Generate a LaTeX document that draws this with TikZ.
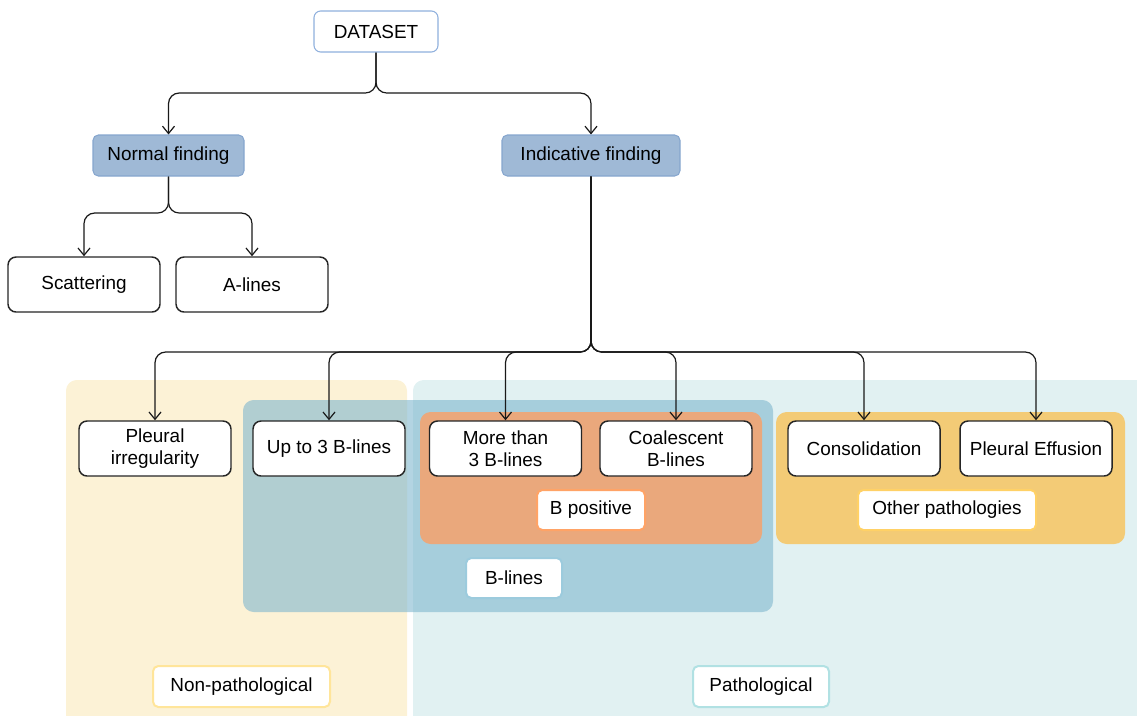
\documentclass[tikz,border=0pt]{standalone}
\usepackage{fontspec}
\setmainfont{Liberation Sans}
\usetikzlibrary{arrows.meta}

\definecolor{setline}{HTML}{8FB0DD}
\definecolor{leadfill}{HTML}{9FB9D6}
\definecolor{leadline}{HTML}{86A6CE}
\definecolor{nonpathfill}{HTML}{FCF2D6}
\definecolor{nonpathline}{HTML}{FFE59A}
\definecolor{pathfill}{HTML}{E1F1F2}
\definecolor{pathline}{HTML}{B1E1E3}
\definecolor{blinesfill}{HTML}{80B7CE}
\definecolor{blinesline}{HTML}{9CCBDD}
\definecolor{bposfill}{HTML}{EAA87C}
\definecolor{bposline}{HTML}{FFA366}
\definecolor{otherfill}{HTML}{F3CB76}
\definecolor{otherline}{HTML}{FFD166}

\begin{document}
\begin{tikzpicture}[x=0.75pt, y=-0.75pt,
    every node/.style={font=\fontsize{14.2pt}{16.8pt}\selectfont, align=center, inner sep=2pt},
    leaf/.style={draw=black!85, line width=1.1pt, fill=white, rounded corners=6pt,
        minimum width=114pt, minimum height=41.25pt},
    lead/.style={draw=leadline, line width=0.8pt, fill=leadfill, rounded corners=4pt,
        minimum height=30.75pt},
    tag/.style={fill=white, line width=1.5pt, rounded corners=4pt, minimum height=30pt},
    group/.style={rounded corners=8pt},
    arr/.style={-{Straight Barb[length=5.5pt,width=9pt]}, line width=0.9pt, black!90, rounded corners=8pt}]
    \useasboundingbox (0,0) rectangle (1137,715);
    \clip (0,0) rectangle (1137,715);

    % groups behind the boxes
    \fill[group, nonpathfill] (66,380) rectangle (407,730);
    \fill[group, pathfill] (413,380) rectangle (1150,730);
    \fill[group, blinesfill, fill opacity=0.6] (243,400) rectangle (773,612);
    \fill[group, bposfill] (420,412) rectangle (762,544);
    \fill[group, otherfill] (776,412) rectangle (1125,544);

    % top of the tree
    \node[draw=setline, line width=0.8pt, fill=white, rounded corners=5pt,
        minimum width=93pt, minimum height=30.75pt] (dataset) at (376,31.5) {DATASET};
    \node[lead, minimum width=113.25pt] (normal) at (168.5,155.5) {Normal finding};
    \node[lead, minimum width=133.5pt] (indic) at (591,155.5) {Indicative finding};

    \node[leaf] (scat) at (84,284.5) {Scattering};
    \node[leaf] (alines) at (252,284.5) {A-lines};

    % leaves under indicative finding
    \node[leaf] (pleurirr) at (155,448.5) {Pleural\\irregularity};
    \node[leaf] (upto) at (329,448.5) {Up to 3 B-lines};
    \node[leaf] (morethan) at (505.5,448.5) {More than\\3 B-lines};
    \node[leaf] (coal) at (676,448.5) {Coalescent\\B-lines};
    \node[leaf] (consol) at (864,448.5) {Consolidation};
    \node[leaf] (effus) at (1036,448.5) {Pleural Effusion};

    % group labels
    \node[tag, draw=bposline, minimum width=81pt] (bpos) at (591,510) {B positive};
    \node[tag, draw=otherline, minimum width=133.5pt] (other) at (947,510) {Other pathologies};
    \node[tag, draw=blinesline, minimum width=72pt] (blines) at (514,578) {B-lines};
    \node[tag, draw=nonpathline, minimum width=132.75pt, minimum height=30.75pt] (nonpath) at (241.5,686.5) {Non-pathological};
    \node[tag, draw=pathline, minimum width=102pt, minimum height=30.75pt] (path) at (761,686.5) {Pathological};

    % connectors
    \draw[arr] (dataset.south) -- (376,93) -| (normal.north);
    \draw[arr] (dataset.south) -- (376,93) -| (indic.north);
    \draw[arr] (normal.south) -- (168.5,213) -| (scat.north);
    \draw[arr] (normal.south) -- (168.5,213) -| (alines.north);
    \foreach \leafnode in {pleurirr, upto, morethan, coal, consol, effus}
        \draw[arr] (indic.south) -- (591,352) -| (\leafnode.north);
\end{tikzpicture}
\end{document}
